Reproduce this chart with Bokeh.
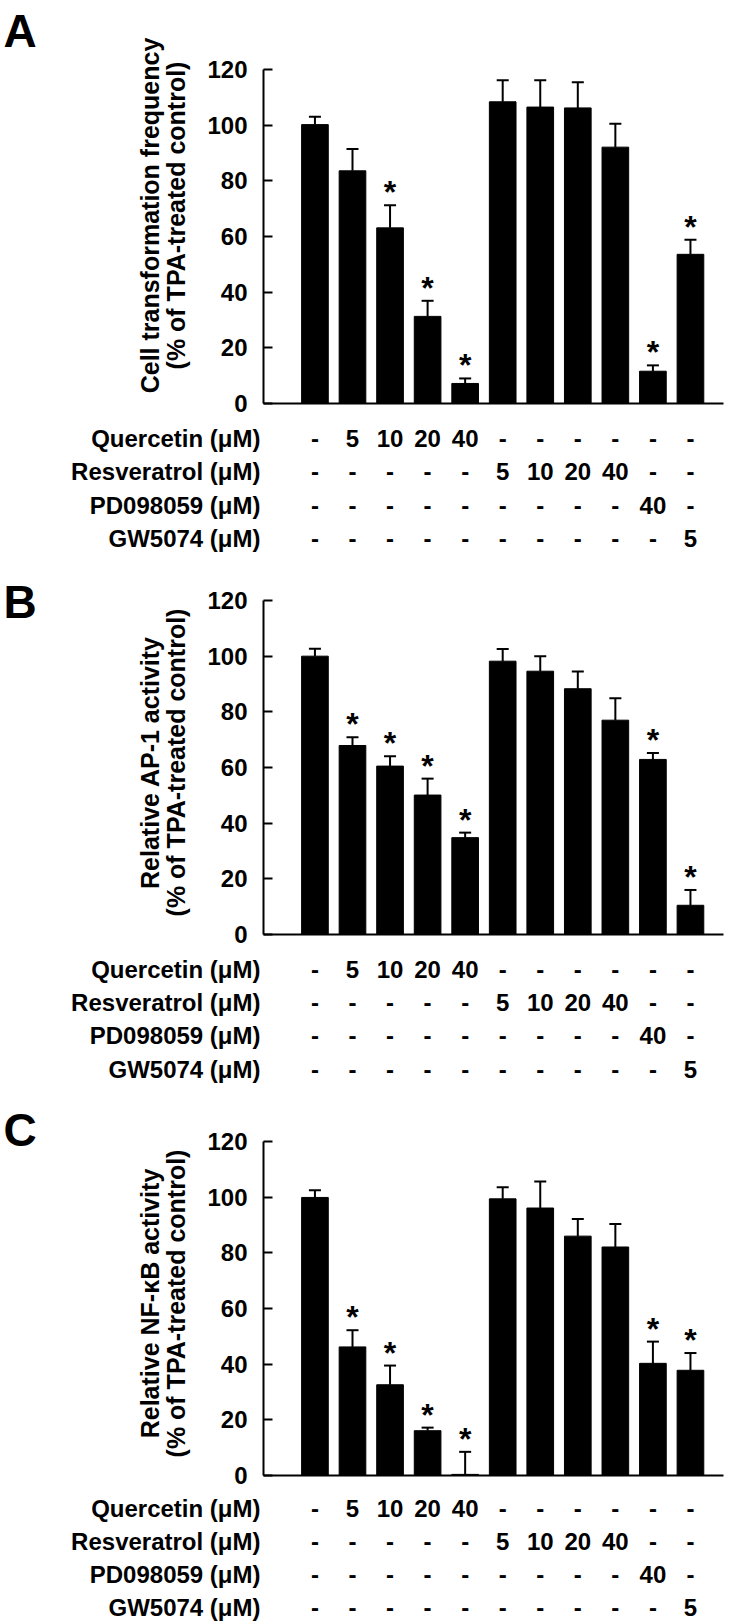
from bokeh.plotting import figure
from bokeh.models import Range1d, FixedTicker, ColumnDataSource
from bokeh.layouts import column
from bokeh.embed import file_html
from bokeh.resources import INLINE
from bokeh.core.properties import value

# ---------------- data ----------------
treatments = ["Quercetin (\u03bcM)", "Resveratrol (\u03bcM)", "PD098059 (\u03bcM)", "GW5074 (\u03bcM)"]
quercetin = ["-", "5", "10", "20", "40", "-", "-", "-", "-", "-", "-"]
resveratrol = ["-", "-", "-", "-", "-", "5", "10", "20", "40", "-", "-"]
pd098059 = ["-", "-", "-", "-", "-", "-", "-", "-", "-", "40", "-"]
gw5074 = ["-", "-", "-", "-", "-", "-", "-", "-", "-", "-", "5"]
groups = [0, 1, 2, 3, 4, 5, 6, 7, 8, 9, 10]
y_ticks = [0, 20, 40, 60, 80, 100, 120]

a_mean = [100.2, 83.6, 63.1, 31.3, 7.2, 108.4, 106.5, 106.2, 92.1, 11.6, 53.6]
a_upper = [103.0, 91.4, 71.2, 36.9, 9.0, 116.1, 116.1, 115.4, 100.5, 13.7, 58.8]
a_sig = [False, False, True, True, True, False, False, False, False, True, True]

b_mean = [100.0, 67.9, 60.5, 50.1, 34.8, 98.2, 94.6, 88.3, 77.0, 62.9, 10.5]
b_upper = [102.7, 70.9, 64.0, 56.0, 36.6, 102.6, 100.0, 94.5, 84.9, 65.2, 16.0]
b_sig = [False, True, True, True, True, False, False, False, False, True, True]

c_mean = [99.9, 46.2, 32.6, 16.1, 0.4, 99.4, 96.1, 86.0, 82.1, 40.3, 37.8]
c_upper = [102.5, 52.2, 39.5, 17.2, 8.5, 103.6, 105.6, 92.2, 90.4, 48.1, 44.0]
c_sig = [False, True, True, True, True, False, False, False, False, True, True]

# ---------------- style / layout (page pixel geometry) ----------------
FONT = "Liberation Sans"
W = 750
AX_LEFT, AX_RIGHT = 263, 723      # page x of the y axis and of the x-axis end
X0, X1 = -1.37, 10.88             # data x at AX_LEFT / AX_RIGHT
PX = (AX_RIGHT - AX_LEFT) / (X1 - X0)
PY = 334 / 120.0                  # pixels per y unit


def xd(px):
    return X0 + (px - AX_LEFT) / PX


def panel(mean, upper, sig, letter, t1, t2, top, bottom, fb, letter_c, title_c, row_first, row_step):
    h = bottom - top
    xr = Range1d(xd(0), xd(W))
    yr = Range1d(-(bottom - fb) / PY, (fb - top) / PY)
    p = figure(width=W, height=h, x_range=xr, y_range=yr,
               output_backend="svg", toolbar_location=None, title=None,
               min_border=0, min_border_left=0, min_border_right=0,
               min_border_top=0, min_border_bottom=0,
               outline_line_color=None, background_fill_color="white",
               border_fill_color="white")
    p.grid.visible = False

    def yd(py):
        return (fb - py) / PY

    ya = p.yaxis[0]
    ya.fixed_location = X0
    ya.bounds = (0, 120)
    ya.ticker = FixedTicker(ticks=y_ticks)
    ya.axis_line_width = 2
    ya.axis_line_color = "black"
    ya.major_tick_line_width = 2
    ya.major_tick_in = 9
    ya.major_tick_out = 0
    ya.minor_tick_line_color = None
    ya.major_label_standoff = 16
    ya.major_label_text_font = FONT
    ya.major_label_text_font_style = "bold"
    ya.major_label_text_font_size = "24px"
    ya.major_label_text_color = "black"

    xa = p.xaxis[0]
    xa.fixed_location = 0
    xa.bounds = (X0, X1)
    xa.ticker = FixedTicker(ticks=[])
    xa.axis_line_width = 2
    xa.axis_line_color = "black"
    xa.major_tick_line_color = None
    xa.minor_tick_line_color = None
    xa.major_tick_in = 0
    xa.major_tick_out = 0
    xa.major_label_text_font_size = "0px"
    xa.major_label_standoff = 0

    src = ColumnDataSource(dict(x=groups, top=mean, up=upper))
    p.segment(x0="x", y0="top", x1="x", y1="up", source=src, line_color="black", line_width=2)
    p.vbar(x="x", top="top", width=0.71, source=src, fill_color="black", line_color="black")
    cap = ColumnDataSource(dict(x0=[g - 0.16 for g in groups], x1=[g + 0.16 for g in groups], y=upper))
    p.segment(x0="x0", y0="y", x1="x1", y1="y", source=cap, line_color="black", line_width=2)

    sx = [g for g, s in zip(groups, sig) if s]
    sy = [u for u, s in zip(upper, sig) if s]
    p.text(x=sx, y=sy, text=["*"] * len(sx), text_align="center", text_baseline="middle",
           y_offset=-13, text_font=value(FONT), text_font_style="bold", text_font_size="32px",
           text_color="black")

    # panel letter and y-axis title
    p.text(x=[xd(3)], y=[yd(letter_c)], text=[letter], text_align="left",
           text_baseline="middle", text_font=value(FONT), text_font_style="bold",
           text_font_size="46px", text_color="black")
    p.text(x=[xd(149), xd(175)], y=[yd(title_c)] * 2, text=[t1, t2], angle=1.5707963,
           text_align="center", text_baseline="middle", text_font=value(FONT),
           text_font_style="bold", text_font_size="25px", text_color="black")

    # treatment table
    row_y = [yd(row_first + row_step * r) for r in range(4)]
    p.text(x=[xd(260)] * 4, y=row_y, text=treatments, text_align="right",
           text_baseline="middle", text_font=value(FONT), text_font_style="bold",
           text_font_size="24px", text_color="black")
    xs, ys, ts = [], [], []
    for r, rw in enumerate([quercetin, resveratrol, pd098059, gw5074]):
        for g, s in zip(groups, rw):
            xs.append(g)
            ys.append(row_y[r])
            ts.append(s)
    p.text(x=xs, y=ys, text=ts, text_align="center", text_baseline="middle",
           text_font=value(FONT), text_font_style="bold", text_font_size="24px",
           text_color="black")
    return p


pA = panel(a_mean, a_upper, a_sig, "A", "Cell transformation frequency", "(% of TPA-treated control)",
           0, 553, 403, 30, 215, 438, 33.3)
pB = panel(b_mean, b_upper, b_sig, "B", "Relative AP-1 activity", "(% of TPA-treated control)",
           553, 1083, 934, 601, 762, 969, 33.2)
pC = panel(c_mean, c_upper, c_sig, "C", "Relative NF-\u03baB activity", "(% of TPA-treated control)",
           1083, 1622, 1475, 1129, 1303, 1508, 33.0)

layout = column(pA, pB, pC, spacing=0)
open("out.html", "w").write(file_html(layout, INLINE))
